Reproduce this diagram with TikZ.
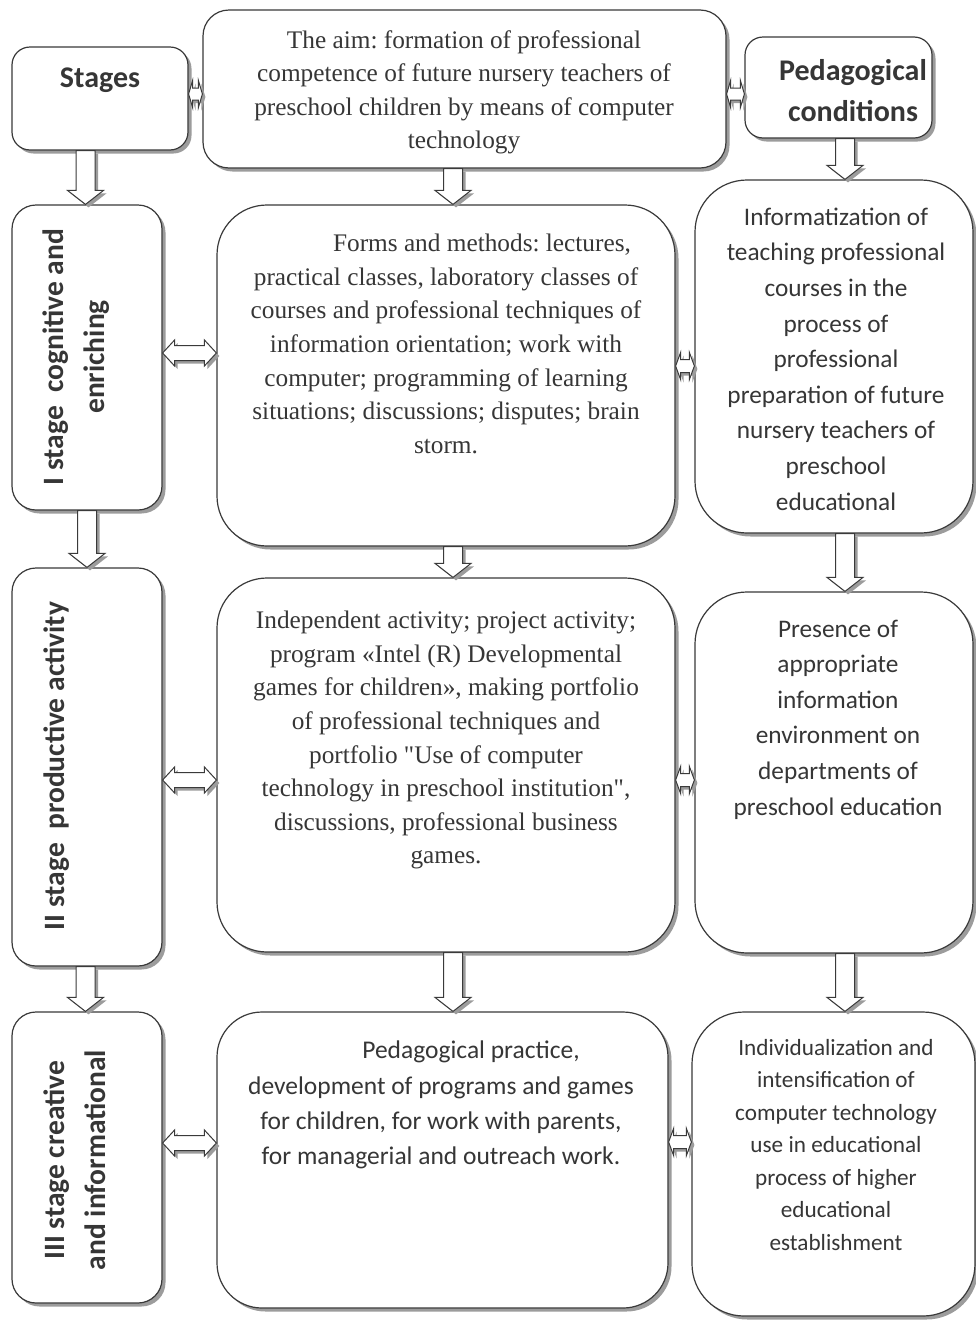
\documentclass[tikz,border=0pt]{standalone}
\usepackage{fontspec}
\setmainfont{Liberation Serif}
\newfontfamily\calib{Carlito}
\usetikzlibrary{calc,shadows}
\frenchspacing
\definecolor{edge}{HTML}{3A3A3A}
\definecolor{txt}{HTML}{363636}
\definecolor{shade}{HTML}{9C9C9C}
\tikzset{
  box/.style={draw=edge, line width=1.2pt, fill=white, rounded corners=#1, inner sep=0pt,
    general shadow={fill=shade, shadow xshift=3.5pt, shadow yshift=-3.5pt}},
  box/.default=20pt,
  blk/.style={draw=edge, line width=1pt, fill=white, line join=miter,
    general shadow={fill=shade, shadow xshift=3pt, shadow yshift=-3pt}},
  serif/.style={text=txt, inner sep=0pt, align=center, font=\fontsize{25.3}{33.6}\selectfont},
  sans/.style={text=txt, inner sep=0pt, align=center, font=\calib\fontsize{25.3}{35.6}\selectfont},
  sansb/.style={text=txt, inner sep=0pt, align=center, font=\calib\bfseries\fontsize{30}{41}\selectfont},
  stagetxt/.style={text=txt, inner sep=0pt, align=center, rotate=90, font=\calib\bfseries\fontsize{29.5}{41}\selectfont},
}
% vertical block arrow from node #1 (south) to node #2 (north) at x = #3
\newcommand\vblk[3]{%
  \path[blk] let \p1=(#1.south), \p2=(#2.north) in
    ({(#3-9.5)*1pt},\y1) -- ({(#3-9.5)*1pt},{\y2+14pt}) -- ({(#3-18)*1pt},{\y2+14pt}) --
    ({#3*1pt},\y2) -- ({(#3+18)*1pt},{\y2+14pt}) -- ({(#3+9.5)*1pt},{\y2+14pt}) --
    ({(#3+9.5)*1pt},\y1) -- cycle;}
% horizontal double block arrow between node #1 (east) and #2 (west) at y=#3
% #4 shaft half width, #5 head half width, #6 head length
\newcommand\hblk[6]{%
  \path[blk] let \p1=(#1.east), \p2=(#2.west) in
    (\x1,{-#3*1pt}) -- ({\x1+#6*1pt},{-(#3-#5)*1pt}) -- ({\x1+#6*1pt},{-(#3-#4)*1pt}) --
    ({\x2-#6*1pt},{-(#3-#4)*1pt}) -- ({\x2-#6*1pt},{-(#3-#5)*1pt}) -- (\x2,{-#3*1pt}) --
    ({\x2-#6*1pt},{-(#3+#5)*1pt}) -- ({\x2-#6*1pt},{-(#3+#4)*1pt}) --
    ({\x1+#6*1pt},{-(#3+#4)*1pt}) -- ({\x1+#6*1pt},{-(#3+#5)*1pt}) -- cycle;}
\begin{document}
\begin{tikzpicture}[x=1pt,y=-1pt]
\useasboundingbox[fill=white] (0,0) rectangle (975,1320);
% boxes
\node[box=18pt, minimum width=176pt, minimum height=103pt] (stages) at (100,98.5) {};
\node[box=26pt, minimum width=523pt, minimum height=158pt] (aim) at (464.5,89) {};
\node[box=18pt, minimum width=187pt, minimum height=101pt] (ped) at (838.5,87.5) {};
\node[box=24pt, minimum width=150pt, minimum height=305pt] (s1) at (87,357.5) {};
\node[box=24pt, minimum width=150pt, minimum height=398pt] (s2) at (87,767) {};
\node[box=24pt, minimum width=150pt, minimum height=291pt] (s3) at (87,1157.5) {};
\node[box=50pt, minimum width=458pt, minimum height=341pt] (forms) at (446,375.5) {};
\node[box=50pt, minimum width=458pt, minimum height=374pt] (indep) at (446,765) {};
\node[box=45pt, minimum width=451pt, minimum height=296pt] (pract) at (442.5,1160) {};
\node[box=52pt, minimum width=278pt, minimum height=353pt] (inform) at (834,356.5) {};
\node[box=52pt, minimum width=278pt, minimum height=361pt] (pres) at (834,772.5) {};
\node[box=52pt, minimum width=283pt, minimum height=304pt] (indiv) at (833.5,1164) {};
% down arrows
\vblk{stages}{s1}{85.5}
\vblk{s1}{s2}{87}
\vblk{s2}{s3}{85.5}
\vblk{aim}{forms}{453}
\vblk{forms}{indep}{453}
\vblk{indep}{pract}{453}
\vblk{ped}{inform}{845}
\vblk{inform}{pres}{845}
\vblk{pres}{indiv}{845}
% double arrows
\hblk{stages}{aim}{94}{6}{13.5}{4}
\hblk{aim}{ped}{94}{6}{13.5}{4}
\hblk{s1}{forms}{353}{7.5}{13}{12}
\hblk{forms}{inform}{366}{6.5}{13.5}{5}
\hblk{s2}{indep}{780}{7.5}{13}{12}
\hblk{indep}{pres}{780}{6.5}{13.5}{5}
\hblk{s3}{pract}{1143}{7.5}{13}{12}
\hblk{pract}{indiv}{1142}{6.5}{13.5}{5}
% texts
\node[sansb] (tstages) at (100,80) {Stages};
\node[sansb] (tped) at (853,91) {Pedagogical\\conditions};
\node[serif, anchor=north] (taim) at (464,30) {The aim: formation of professional\\competence of future nursery teachers of\\preschool children by means of computer\\technology};
\node[serif, anchor=north] (tforms) at (446,234) {\hspace*{72pt}Forms and methods: lectures,\\practical classes, laboratory classes of\\courses and professional techniques of\\information orientation; work with\\computer; programming of learning\\situations; discussions; disputes; brain\\storm.};
\node[serif, anchor=north] (tindep) at (446,611) {Independent activity; project activity;\\program «Intel (R) Developmental\\games for children», making portfolio\\of professional techniques and\\portfolio \textquotedbl Use of computer\\technology in preschool institution\textquotedbl,\\discussions, professional business\\games.};
\node[sans, anchor=north, font=\calib\fontsize{25.5}{35.3}\selectfont] (tpract) at (441,1041) {\hspace*{60pt}Pedagogical practice,\\development of programs and games\\for children, for work with parents,\\for managerial and outreach work.};
\node[sans, anchor=north] (tinform) at (836,207.5) {Informatization of\\teaching professional\\courses in the\\process of\\professional\\preparation of future\\nursery teachers of\\preschool\\educational};
\node[sans, anchor=north] (tpres) at (838,619.5) {Presence of\\appropriate\\information\\environment on\\departments of\\preschool education};
\node[sans, anchor=north, font=\calib\fontsize{23.2}{32.5}\selectfont] (tindiv) at (836,1039) {Individualization and\\intensification of\\computer technology\\use in educational\\process of higher\\educational\\establishment};
\node[stagetxt] (ts1) at (76,357) {I stage\ \ cognitive and\\enriching};
\node[stagetxt] (ts2) at (57,766) {II stage\ \ productive activity};
\node[stagetxt] (ts3) at (75,1160) {III stage creative\\and informational};
\end{tikzpicture}
\end{document}
